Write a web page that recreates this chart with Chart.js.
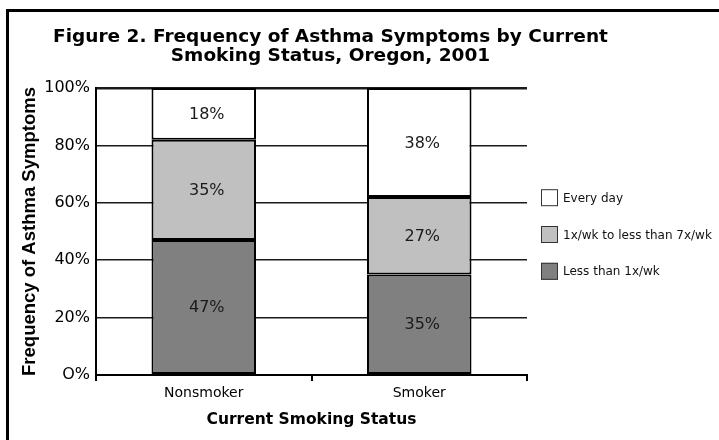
<!DOCTYPE html>
<html>
<head>
<meta charset="utf-8">
<title>Frequency of Asthma Symptoms by Current Smoking Status, Oregon, 2001</title>
<script src="https://cdn.jsdelivr.net/npm/chart.js@4.4.1/dist/chart.umd.min.js"></script>
<style>
  html, body { margin: 0; padding: 0; background: #fff; }
  #wrap { position: relative; width: 719px; height: 440px; overflow: hidden; }
  #frame { position: absolute; left: 6px; top: 9px; right: -10px; bottom: -10px;
           border-left: 3px solid #000; border-top: 3px solid #000; }
  #chart { position: absolute; left: 0; top: 0; }
</style>
</head>
<body>
<div id="wrap">
  <div id="frame"></div>
  <canvas id="chart" width="719" height="440"></canvas>
</div>
<script>
// Smoking status groups on the x axis
const categories = ['Nonsmoker', 'Smoker'];

// Share of adults with asthma (%) by symptom frequency, stacked bottom to top
const lessThanWeekly = [47, 35];
const weeklyNotDaily = [35, 27];
const everyDay = [18, 38];

const seriesNames = ['Less than 1x/wk', '1x/wk to less than 7x/wk', 'Every day'];
const seriesColors = ['#808080', '#c0c0c0', '#ffffff'];

const yTickLabels = ['O%', '20%', '40%', '60%', '80%', '100%'];
const titleLines = ['Figure 2. Frequency of Asthma Symptoms by Current',
                    'Smoking Status, Oregon, 2001'];
const xAxisTitle = 'Current Smoking Status';
const yAxisTitle = 'Frequency of Asthma Symptoms';

const SANS = '"DejaVu Sans", "Liberation Sans", Arial, sans-serif';
const ARIAL = '"Liberation Sans", Arial, sans-serif';

// Two-line figure heading
const figureTitle = {
  id: 'figureTitle',
  afterDraw(chart) {
    const ctx = chart.ctx;
    const cx = (chart.chartArea.left + chart.chartArea.right) / 2 + 19;
    ctx.save();
    ctx.fillStyle = '#000';
    ctx.font = 'bold 18.5px ' + SANS;
    ctx.textAlign = 'center';
    ctx.textBaseline = 'alphabetic';
    ctx.fillText(titleLines[0], cx, 42);
    ctx.fillText(titleLines[1], cx, 60.5);
    ctx.restore();
  }
};

// Percent value written in the middle of each stacked segment
const segmentLabels = {
  id: 'segmentLabels',
  afterDatasetsDraw(chart) {
    const ctx = chart.ctx;
    ctx.save();
    ctx.fillStyle = '#1a1a1a';
    ctx.font = '16px ' + SANS;
    ctx.textAlign = 'center';
    ctx.textBaseline = 'middle';
    chart.data.datasets.forEach((ds, i) => {
      const meta = chart.getDatasetMeta(i);
      meta.data.forEach((bar, j) => {
        const p = bar.getProps(['x', 'y', 'base'], true);
        ctx.fillText(ds.data[j] + '%', p.x + 3, (p.y + p.base) / 2 + 1);
      });
    });
    ctx.restore();
  }
};

// Legend to the right of the plot, top segment listed first
const sideLegend = {
  id: 'sideLegend',
  afterDraw(chart) {
    const ctx = chart.ctx;
    const area = chart.chartArea;
    const mid = (area.top + area.bottom) / 2;
    const sets = chart.data.datasets.slice().reverse();
    const box = 17;
    const x = area.right + 14;
    ctx.save();
    ctx.font = '12px ' + SANS;
    ctx.textAlign = 'left';
    ctx.textBaseline = 'middle';
    sets.forEach((ds, i) => {
      const cy = mid + (i - 1) * 36.8 + 3;
      ctx.fillStyle = ds.backgroundColor;
      ctx.fillRect(x, cy - box / 2, box, box);
      ctx.strokeStyle = '#333';
      ctx.lineWidth = 1;
      ctx.strokeRect(x + 0.5, cy - box / 2 + 0.5, box - 1, box - 1);
      ctx.fillStyle = '#111';
      ctx.fillText(ds.label, x + box + 5, cy + 1);
    });
    ctx.restore();
  }
};

const seriesValues = [lessThanWeekly, weeklyNotDaily, everyDay];

new Chart(document.getElementById('chart'), {
  type: 'bar',
  data: {
    labels: categories,
    datasets: seriesValues.map((vals, i) => ({
      label: seriesNames[i],
      data: vals,
      backgroundColor: seriesColors[i],
      borderColor: '#000',
      borderWidth: 2,
      borderSkipped: false,
      barPercentage: 0.485,
      categoryPercentage: 1
    }))
  },
  options: {
    responsive: false,
    animation: false,
    devicePixelRatio: 1,
    layout: { padding: { top: 88, right: 192, bottom: 0, left: 0 } },
    plugins: {
      legend: { display: false },
      title: { display: false },
      tooltip: { enabled: false }
    },
    scales: {
      x: {
        stacked: true,
        afterFit(scale) { scale.height = 65; },
        grid: {
          display: true,
          offset: true,
          drawOnChartArea: false,
          drawTicks: true,
          tickLength: 6,
          color: '#000',
          lineWidth: 2
        },
        border: { display: true, color: '#000', width: 2 },
        ticks: {
          color: '#000',
          padding: 4,
          font: { family: SANS, size: 14 }
        },
        title: {
          display: true,
          text: xAxisTitle,
          color: '#000',
          font: { family: SANS, size: 15.5, weight: 'bold' },
          padding: { top: 0, bottom: 11 }
        }
      },
      y: {
        stacked: true,
        min: 0,
        max: 100,
        afterFit(scale) { scale.width = 96; },
        grid: {
          drawTicks: false,
          color: '#1a1a1a',
          lineWidth: (c) => c.tick && c.tick.value === 100 ? 2.5 : (c.tick && c.tick.value === 0 ? 2 : 1.5)
        },
        border: { display: true, color: '#000', width: 2 },
        ticks: {
          stepSize: 20,
          color: '#000',
          padding: 6,
          font: { family: SANS, size: 16 },
          callback: (v) => yTickLabels[Math.round(v / 20)]
        },
        title: {
          display: true,
          text: yAxisTitle,
          color: '#000',
          font: { family: ARIAL, size: 18.5, weight: 'bold' },
          padding: { top: 19, bottom: 0 }
        }
      }
    }
  },
  plugins: [figureTitle, segmentLabels, sideLegend]
});
</script>
</body>
</html>
